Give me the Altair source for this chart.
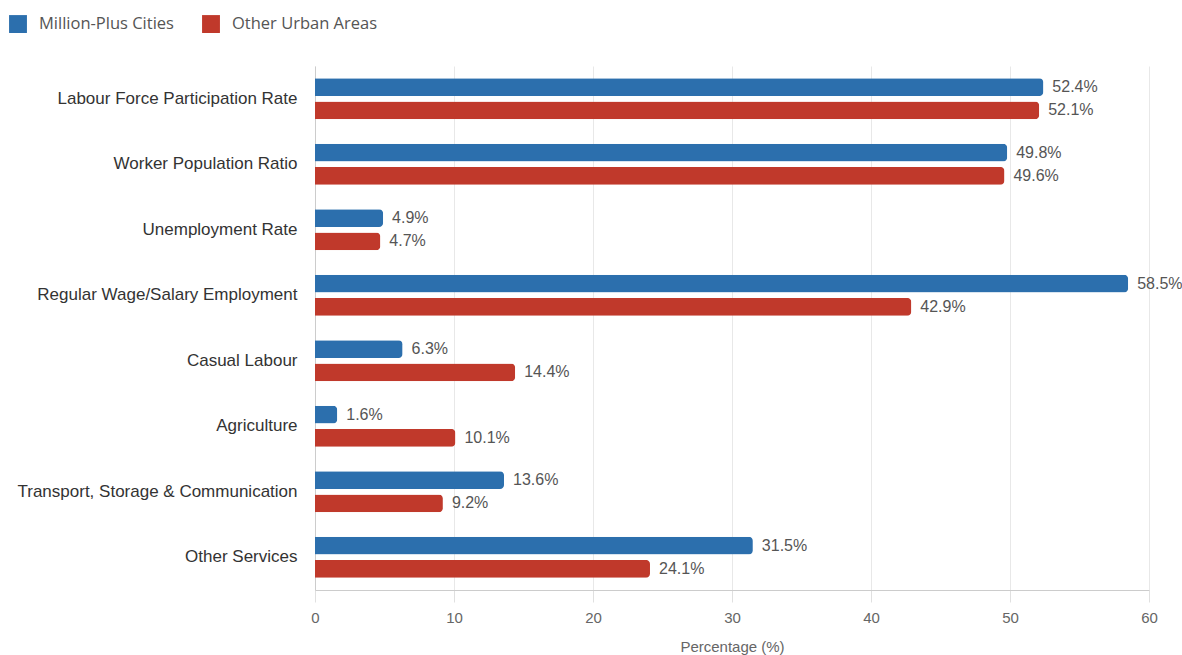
import altair as alt
import pandas as pd

categories = [
    "Labour Force Participation Rate",
    "Worker Population Ratio",
    "Unemployment Rate",
    "Regular Wage/Salary Employment",
    "Casual Labour",
    "Agriculture",
    "Transport, Storage & Communication",
    "Other Services",
]
series = ["Million-Plus Cities", "Other Urban Areas"]
million_plus = [52.4, 49.8, 4.9, 58.5, 6.3, 1.6, 13.6, 31.5]
other_urban = [52.1, 49.6, 4.7, 42.9, 14.4, 10.1, 9.2, 24.1]
colors = ["#2c6fad", "#c0392b"]

rows = []
for c, a, b in zip(categories, million_plus, other_urban):
    rows.append({"Indicator": c, "Area": series[0], "Value": a, "Label": f"{a}%"})
    rows.append({"Indicator": c, "Area": series[1], "Value": b, "Label": f"{b}%"})
df = pd.DataFrame(rows)

y = alt.Y("Indicator:N", sort=categories, title=None,
          scale=alt.Scale(paddingInner=0, paddingOuter=0),
          axis=alt.Axis(labelFont="Liberation Sans", labelFontSize=17, labelColor="#333",
                        labelPadding=18, ticks=False, domain=True, domainColor="#cccccc",
                        grid=False, labelLimit=400))
x = alt.X("Value:Q", title="Percentage (%)",
          scale=alt.Scale(domain=[0, 60], nice=False),
          axis=alt.Axis(values=[0, 10, 20, 30, 40, 50, 60], labelFont="Liberation Sans",
                        labelFontSize=15, labelColor="#666", titleFont="Liberation Sans",
                        titleFontSize=15, titleColor="#666", titleFontWeight="normal",
                        tickSize=12, tickColor="#e0e0e0", domainColor="#cccccc",
                        gridColor="#e8e8e8", labelPadding=8, titlePadding=14,
                        labelFlush=False))
yoff = alt.YOffset("Area:N", sort=series,
                   scale=alt.Scale(paddingInner=0.23, paddingOuter=0.53))
color = alt.Color("Area:N", sort=series,
                  scale=alt.Scale(domain=series, range=colors),
                  legend=alt.Legend(title=None, orient="none", direction="horizontal",
                                    legendX=-306, legendY=-51, symbolType="square",
                                    symbolSize=320, symbolStrokeWidth=0,
                                    labelFont="Open Sans", labelFontSize=16.5,
                                    labelColor="#555", columnPadding=28, labelOffset=12))

bars = alt.Chart(df).mark_bar(cornerRadiusTopRight=4, cornerRadiusBottomRight=4).encode(
    x=x, y=y, yOffset=yoff, color=color
)
text = alt.Chart(df).mark_text(align="left", baseline="middle", dx=9,
                               font="Liberation Sans", fontSize=16, color="#555").encode(
    x=x, y=y, yOffset=yoff, text="Label:N"
)

chart = (bars + text).properties(
    width=834, height=524,
    background="white",
    autosize=alt.AutoSizeParams(type="none"),
    padding={"left": 315, "top": 66, "right": 33, "bottom": 65},
).configure_view(strokeWidth=0)

chart.save("out.html", embed_options={"renderer": "svg", "actions": False})
